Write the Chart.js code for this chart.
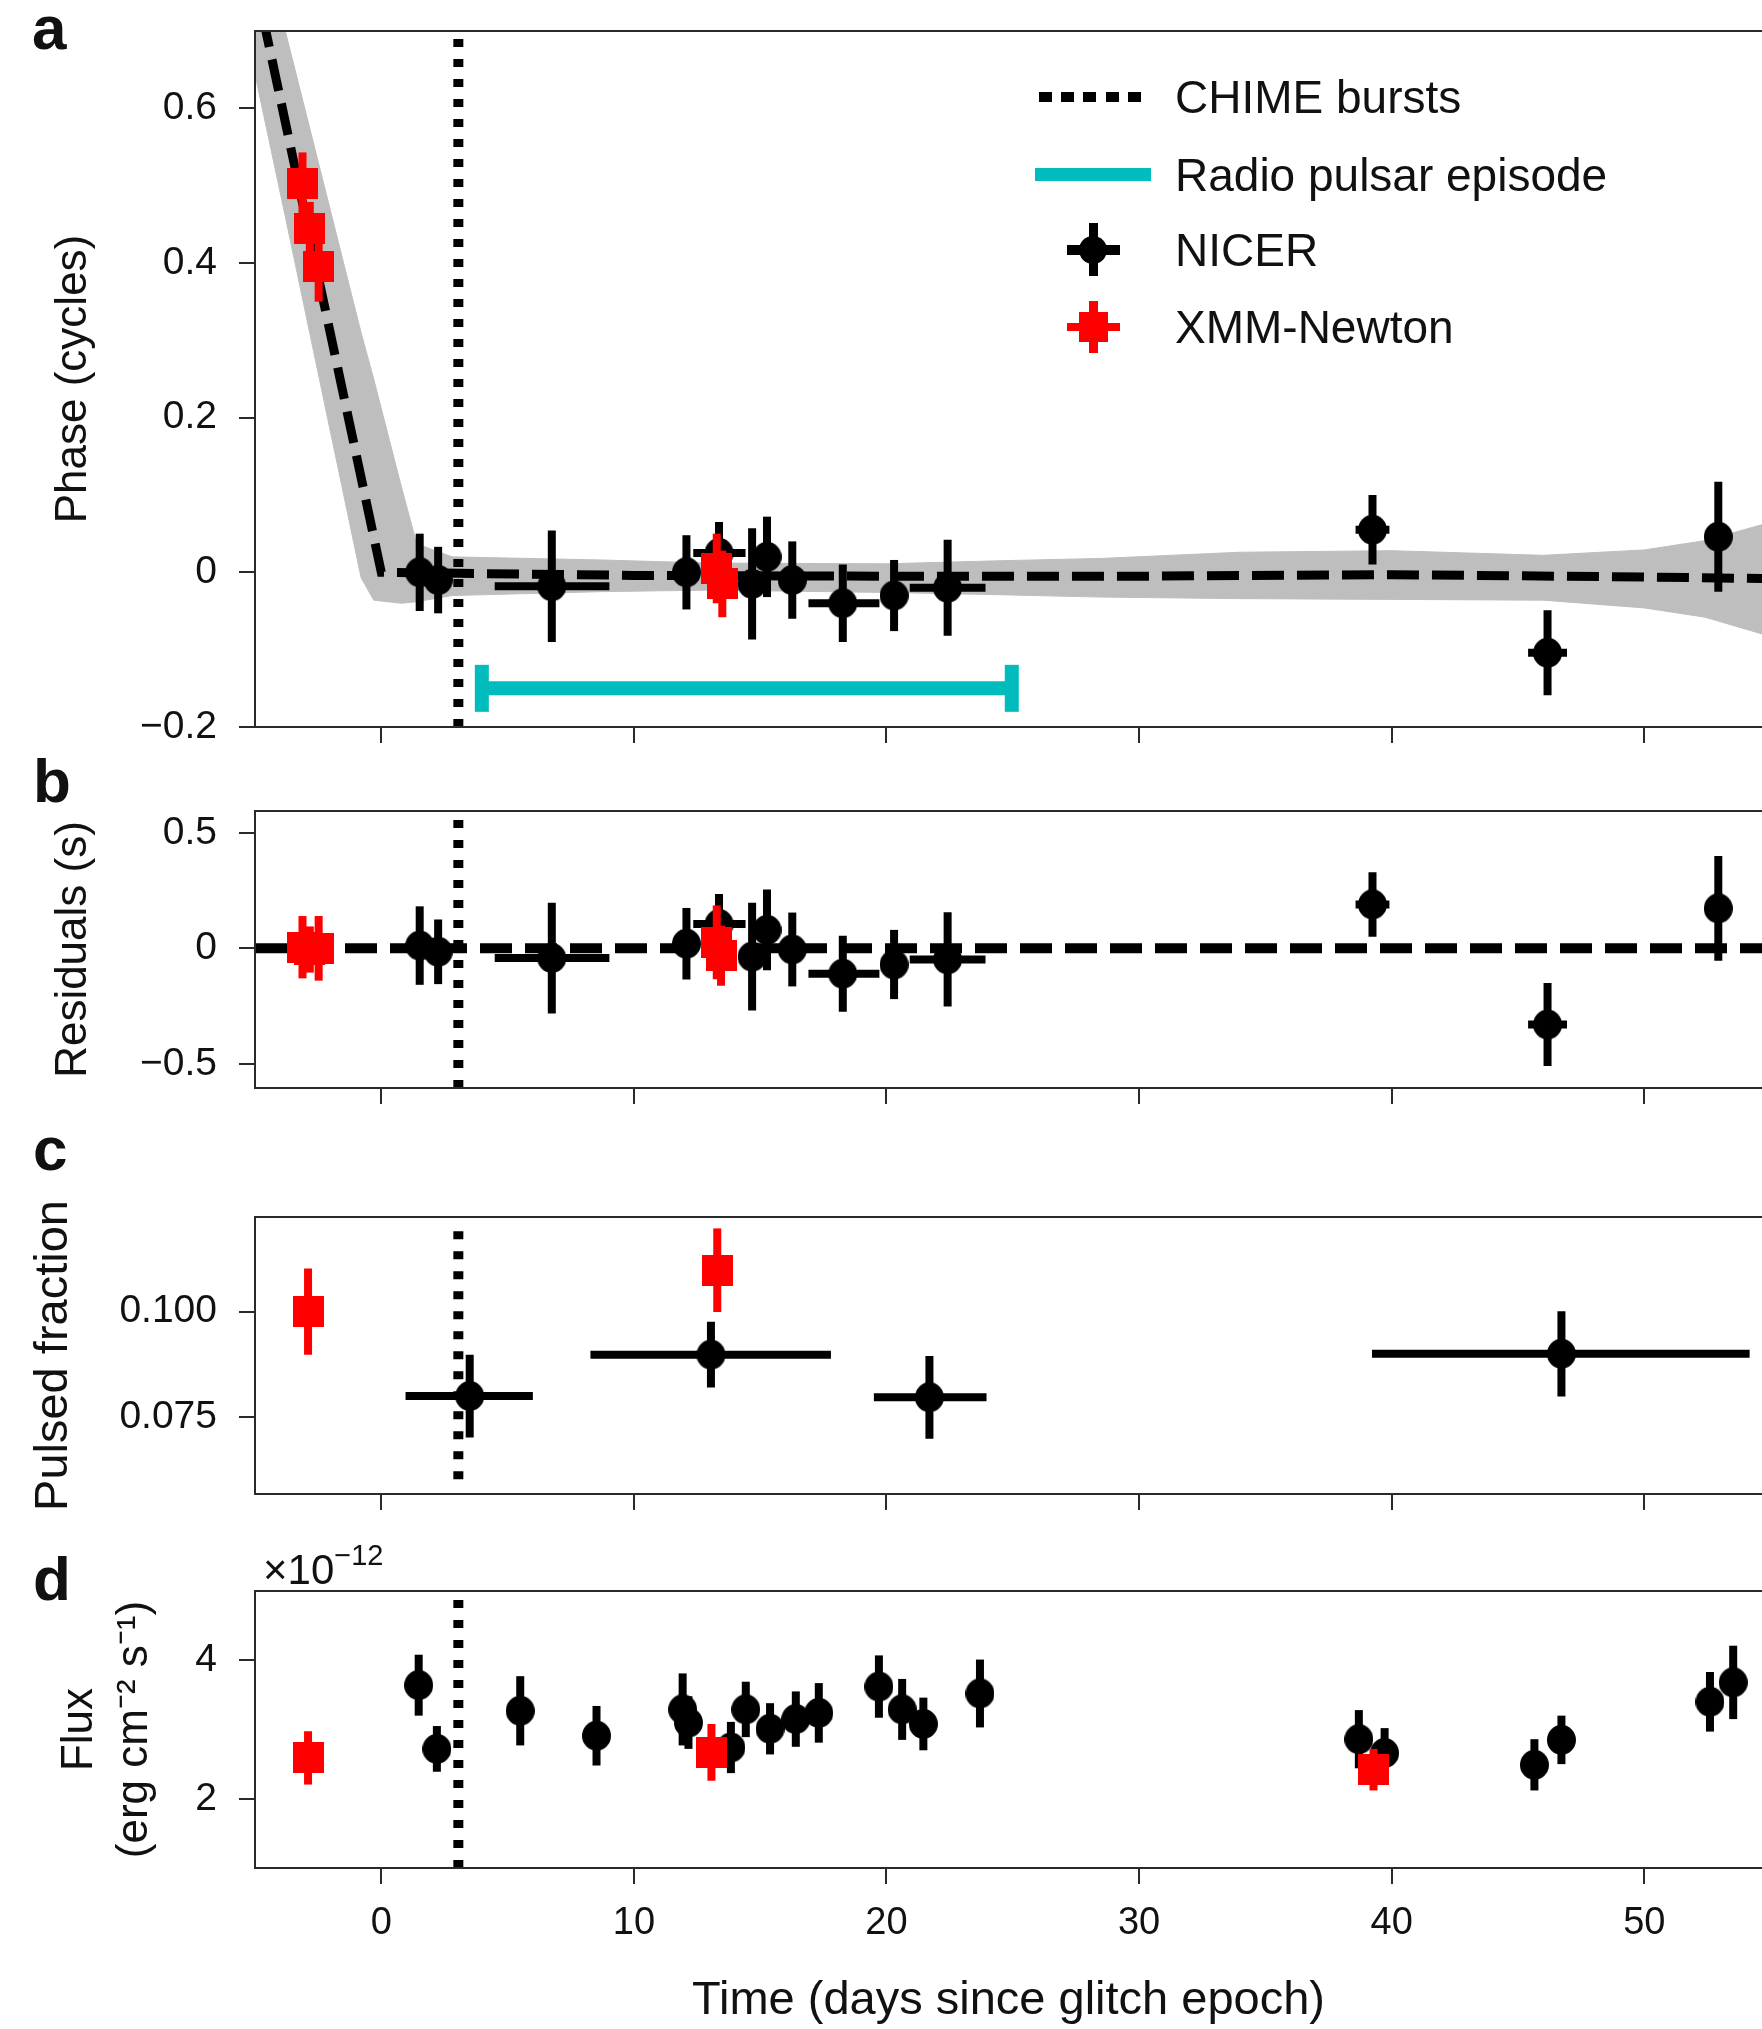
<!DOCTYPE html>
<html lang="en">
<head>
<meta charset="utf-8">
<title>Phase, residuals, pulsed fraction and flux</title>
<script src="https://cdn.jsdelivr.net/npm/chart.js"></script>
<style>
  body { margin: 0; background: #fff; }
  #fig { position: relative; width: 1762px; height: 2029px; overflow: hidden;
         font-family: 'Liberation Sans', Arial, sans-serif; color: #111; }
  #fig canvas { position: absolute; left: 0; }
  .lbl { position: absolute; font-weight: bold; font-size: 62px; line-height: 62px; }
  .leg { position: absolute; left: 1175px; font-size: 46px; line-height: 46px;
         transform: translateY(-50%); white-space: nowrap; }
  .sym { position: absolute; }
  .mult { position: absolute; left: 263px; top: 1538px; font-size: 42px; line-height: 42px; }
  .mult sup { font-size: 29px; position: relative; top: -4px; }
</style>
</head>
<body>
<div id="fig">
  <canvas id="panelA" width="1762" height="770" style="top:0px"></canvas>
  <canvas id="panelB" width="1762" height="360" style="top:770px"></canvas>
  <canvas id="panelC" width="1762" height="410" style="top:1130px"></canvas>
  <canvas id="panelD" width="1762" height="489" style="top:1540px"></canvas>

  <div class="lbl" style="left:32px; top:-3px">a</div>
  <div class="lbl" style="left:33px; top:750px">b</div>
  <div class="lbl" style="left:33px; top:1118px">c</div>
  <div class="lbl" style="left:33px; top:1548px">d</div>
  <div class="mult">×10<sup>−12</sup></div>

  <!-- legend -->
  <div class="sym" style="left:1039px; top:92px; width:102px; height:10px;
       background: repeating-linear-gradient(90deg, #000 0 13px, transparent 13px 22.25px);"></div>
  <div class="leg" style="top:97px">CHIME bursts</div>

  <div class="sym" style="left:1035px; top:168px; width:116px; height:13px; background:#00bcbc;"></div>
  <div class="leg" style="top:175px">Radio pulsar episode</div>

  <div class="sym" style="left:1089px; top:223px; width:9px; height:53px; background:#000;"></div>
  <div class="sym" style="left:1067px; top:245px; width:53px; height:10px; background:#000;"></div>
  <div class="sym" style="left:1079px; top:236px; width:28px; height:28px; border-radius:50%; background:#000;"></div>
  <div class="leg" style="top:250px">NICER</div>

  <div class="sym" style="left:1089px; top:301px; width:9px; height:52px; background:#f00;"></div>
  <div class="sym" style="left:1067px; top:323px; width:53px; height:8px; background:#f00;"></div>
  <div class="sym" style="left:1079px; top:312px; width:29px; height:30px; background:#f00;"></div>
  <div class="leg" style="top:327px">XMM-Newton</div>
</div>

<script>
  // ---- shared time axis ----
  const xMin = -5, xMax = 54.66
  const xTicks = [0, 10, 20, 30, 40, 50]
  const xTickLabels = ['0', '10', '20', '30', '40', '50']
  const chimeDay = 3.05
  const radioStart = 3.98, radioEnd = 24.96, radioPhase = -0.15

  // ---- panel a: phase ----
  const phaseMin = -0.2, phaseMax = 0.7
  const phaseTicks = [-0.2, 0, 0.2, 0.4, 0.6]
  const phaseTickLabels = ['−0.2', '0', '0.2', '0.4', '0.6']
  const bandDay = [-5, -3.8, -0.8, -0.3, 0.8, 1.4, 2.8, 8.7, 13, 20, 24.5, 28.5, 34, 40, 46, 50, 52.4, 54.7]
  const bandHi = [0.85, 0.70, 0.31, 0.25, 0.11, 0.037, 0.02, 0.016, 0.012, 0.011, 0.015, 0.018, 0.026, 0.028, 0.022, 0.029, 0.041, 0.062]
  const bandLo = [0.644, 0.46, -0.007, -0.036, -0.04, -0.038, -0.03, -0.025, -0.023, -0.026, -0.029, -0.032, -0.034, -0.035, -0.036, -0.046, -0.058, -0.08]
  const modelDay = [-4.7, 0, 10, 20, 30, 40, 50, 54.7]
  const modelPhase = [0.72, 0.0, -0.004, -0.005, -0.005, -0.003, -0.006, -0.008]

  const nicerDay = [1.52, 2.25, 6.75, 12.08, 13.37, 14.68, 15.27, 16.27, 18.27, 20.30, 22.42, 39.24, 46.17, 52.93]
  const nicerDayLo = [null, null, 4.49, null, 12.35, null, null, null, 16.91, null, 20.92, 38.57, 45.40, null]
  const nicerDayHi = [null, null, 9.03, null, 14.42, null, null, null, 19.72, null, 23.92, 39.91, 46.94, null]
  const nicerPhase = [0.0, -0.01, -0.018, 0.0, 0.025, -0.015, 0.02, -0.01, -0.04, -0.03, -0.02, 0.055, -0.104, 0.046]
  const nicerPhaseErr = [0.05, 0.043, 0.072, 0.048, 0.04, 0.072, 0.052, 0.05, 0.05, 0.046, 0.062, 0.045, 0.055, 0.071]

  const xmmDayA = [-3.12, -2.83, -2.48, 13.28, 13.50]
  const xmmPhase = [0.503, 0.444, 0.395, 0.005, -0.015]
  const xmmPhaseErr = [0.04, 0.035, 0.045, 0.045, 0.043]

  // ---- panel b: residuals ----
  const resMin = -0.605, resMax = 0.595
  const resTicks = [-0.5, 0, 0.5]
  const resTickLabels = ['−0.5', '0', '0.5']
  const zeroDay = [-5, 54.7]
  const zeroRes = [0, 0]
  const nicerRes = [0.012, -0.015, -0.042, 0.02, 0.105, -0.036, 0.08, -0.005, -0.11, -0.07, -0.048, 0.19, -0.33, 0.173]
  const nicerResErr = [0.17, 0.14, 0.24, 0.155, 0.13, 0.233, 0.175, 0.16, 0.165, 0.15, 0.204, 0.14, 0.18, 0.227]
  const xmmDayB = [-3.12, -2.83, -2.48, 13.28, 13.45]
  const xmmRes = [0.005, -0.005, 0.0, 0.026, -0.032]
  const xmmResErr = [0.135, 0.10, 0.14, 0.16, 0.13]

  // ---- panel c: pulsed fraction ----
  const pfMin = 0.0568, pfMax = 0.1224
  const pfTicks = [0.075, 0.1]
  const pfTickLabels = ['0.075', '0.100']
  const pfChime = [0.0603, 0.1197]
  const pfDay = [3.5, 13.05, 21.7, 46.72]
  const pfDayLo = [0.96, 8.28, 19.5, 39.22]
  const pfDayHi = [6.0, 17.8, 23.96, 54.17]
  const pfVal = [0.080, 0.0898, 0.0797, 0.0900]
  const pfErr = [0.0098, 0.0078, 0.0098, 0.0101]
  const xmmPfDay = [-2.9, 13.3]
  const xmmPf = [0.100, 0.1098]
  const xmmPfErr = [0.0102, 0.0099]

  // ---- panel d: flux (x1e-12) ----
  const fluxMin = 1.0, fluxMax = 5.0
  const fluxTicks = [2, 4]
  const fluxTickLabels = ['2', '4']
  const fluxDay = [1.48, 2.2, 5.5, 8.52, 11.93, 12.16, 13.84, 14.43, 15.39, 16.41, 17.32, 19.7, 20.62, 21.46, 23.7, 38.7, 39.72, 45.65, 46.72, 52.6, 53.52]
  const flux = [3.64, 2.72, 3.27, 2.91, 3.29, 3.10, 2.74, 3.29, 3.01, 3.15, 3.24, 3.62, 3.29, 3.08, 3.52, 2.86, 2.66, 2.49, 2.85, 3.40, 3.68]
  const fluxErr = [0.44, 0.33, 0.5, 0.43, 0.52, 0.38, 0.37, 0.4, 0.37, 0.4, 0.43, 0.45, 0.44, 0.38, 0.49, 0.42, 0.36, 0.37, 0.35, 0.43, 0.53]
  const xmmFluxDay = [-2.9, 13.07, 39.28]
  const xmmFlux = [2.59, 2.67, 2.42]
  const xmmFluxErr = [0.385, 0.41, 0.3]

  const AXIS = '#2a2a2a'
  const CYAN = '#00bcbc'
  const BAND = '#bebebe'

  Chart.defaults.font.family = "'Liberation Sans', Arial, sans-serif"
  Chart.defaults.color = '#111'

  // marker images
  const ellipse = document.createElement('canvas')
  ellipse.width = 29; ellipse.height = 30
  let g = ellipse.getContext('2d')
  g.fillStyle = '#000'
  g.beginPath(); g.ellipse(14.5, 15, 14.5, 15, 0, 0, Math.PI * 2); g.fill()

  const redSquare = document.createElement('canvas')
  redSquare.width = 31; redSquare.height = 31
  g = redSquare.getContext('2d')
  g.fillStyle = '#ff0000'
  g.fillRect(0, 0, 31, 31)

  const pts = (xs, ys) => xs.map((x, i) => ({x: x, y: ys[i]}))

  // error bars drawn right before their own points
  const errorBars = {
    id: 'errorBars',
    beforeDatasetDraw(chart, args) {
      const ds = chart.data.datasets[args.index]
      if (!ds.errY) return
      const {ctx, chartArea} = chart
      const xs = chart.scales.x, ys = chart.scales.y
      ctx.save()
      ctx.beginPath()
      ctx.rect(chartArea.left, chartArea.top, chartArea.width, chartArea.height)
      ctx.clip()
      ctx.strokeStyle = ds.barColor
      ctx.lineWidth = 8
      ctx.lineCap = 'butt'
      ds.data.forEach((p, i) => {
        const px = xs.getPixelForValue(p.x)
        ctx.beginPath()
        ctx.moveTo(px, ys.getPixelForValue(p.y - ds.errY[i]))
        ctx.lineTo(px, ys.getPixelForValue(p.y + ds.errY[i]))
        if (ds.xLo && ds.xLo[i] != null) {
          const py = ys.getPixelForValue(p.y)
          ctx.moveTo(xs.getPixelForValue(ds.xLo[i]), py)
          ctx.lineTo(xs.getPixelForValue(ds.xHi[i]), py)
        }
        ctx.stroke()
      })
      ctx.restore()
    }
  }

  function nicerSet(xs, ys, err, lo, hi) {
    return {type: 'scatter', data: pts(xs, ys), pointStyle: ellipse, pointRadius: 15,
            errY: err, xLo: lo, xHi: hi, barColor: '#000', order: 1}
  }
  function xmmSet(xs, ys, err) {
    return {type: 'scatter', data: pts(xs, ys), pointStyle: redSquare, pointRadius: 15,
            errY: err, barColor: '#ff0000', order: 0}
  }
  function chimeSet(lo, hi) {
    return {type: 'line', data: [{x: chimeDay, y: lo}, {x: chimeDay, y: hi}],
            borderColor: '#000', borderWidth: 10, borderDash: [8, 12], borderCapStyle: 'butt',
            pointRadius: 0, fill: false, clip: 0, order: 3}
  }
  function dashedSet(xs, ys, w) {
    return {type: 'line', data: pts(xs, ys), borderColor: '#000', borderWidth: w,
            borderDash: [32, 13], borderCapStyle: 'butt', pointRadius: 0, tension: 0,
            fill: false, clip: 0, order: 4}
  }
  const zeroPad = s => { s.paddingTop = 0; s.paddingBottom = 0; s.paddingLeft = 0; s.paddingRight = 0 }

  function panelChart(id, p) {
    return new Chart(document.getElementById(id), {
      type: 'scatter',
      data: {datasets: p.datasets},
      plugins: [errorBars],
      options: {
        responsive: false,
        animation: false,
        devicePixelRatio: 1,
        events: [],
        layout: {autoPadding: false, padding: {top: p.padTop, left: 0, right: 0, bottom: 0}},
        plugins: {legend: {display: false}, tooltip: {enabled: false}},
        scales: {
          x: {
            type: 'linear', position: 'bottom', min: xMin, max: xMax,
            afterBuildTicks: s => { s.ticks = xTicks.map(v => ({value: v})) },
            afterFit: s => { s.height = p.xAxisH; zeroPad(s) },
            grid: {drawOnChartArea: false, tickLength: 16, color: AXIS, lineWidth: 2},
            border: {color: AXIS, width: 2, z: 1},
            ticks: {display: p.xLabels, padding: 17, font: {size: 38}, color: '#111',
                    callback: (v, i) => xTickLabels[i]},
            title: {display: p.xLabels, text: 'Time (days since glitch epoch)', color: '#111',
                    font: {size: 47}, padding: {top: 0, bottom: 0}}
          },
          x2: {
            type: 'linear', axis: 'x', position: 'top', min: xMin, max: xMax,
            grid: {display: false}, ticks: {display: false},
            border: {color: AXIS, width: 2, z: 1},
            afterFit: s => { s.height = 0; zeroPad(s) }
          },
          y: {
            type: 'linear', position: 'left', min: p.yMin, max: p.yMax,
            afterBuildTicks: s => { s.ticks = p.yTicks.map(v => ({value: v})) },
            afterFit: s => { s.width = 255; zeroPad(s) },
            grid: {drawOnChartArea: false, tickLength: 16, color: AXIS, lineWidth: 2},
            border: {color: AXIS, width: 2, z: 1},
            ticks: {padding: 22, font: {size: 39}, color: '#111',
                    callback: (v, i) => p.yTickLabels[i]},
            title: {display: true, text: p.yTitle, color: '#111',
                    font: {size: p.yTitleSize, lineHeight: 1.25},
                    padding: {top: p.yTitlePad, bottom: 0}}
          }
        }
      }
    })
  }

  // panel a
  panelChart('panelA', {
    padTop: 31, xAxisH: 43, xLabels: false,
    yMin: phaseMin, yMax: phaseMax, yTicks: phaseTicks, yTickLabels: phaseTickLabels,
    yTitle: 'Phase (cycles)', yTitleSize: 44, yTitlePad: 46.5,
    datasets: [
      {type: 'line', data: pts(bandDay, bandHi), borderColor: BAND, borderWidth: 1,
       pointRadius: 0, fill: false, clip: 0, order: 6},
      {type: 'line', data: pts(bandDay, bandLo), borderColor: BAND, borderWidth: 1,
       backgroundColor: BAND, pointRadius: 0, fill: '-1', clip: 0, order: 5},
      dashedSet(modelDay, modelPhase, 9),
      chimeSet(phaseMin, phaseMax),
      {type: 'line', data: [{x: radioStart, y: radioPhase}, {x: radioEnd, y: radioPhase}],
       borderColor: CYAN, borderWidth: 14, borderCapStyle: 'butt', fill: false,
       pointStyle: 'line', rotation: 90, pointRadius: 23.5,
       pointBorderWidth: 14, pointBorderColor: CYAN, clip: 0, order: 2},
      nicerSet(nicerDay, nicerPhase, nicerPhaseErr, nicerDayLo, nicerDayHi),
      xmmSet(xmmDayA, xmmPhase, xmmPhaseErr)
    ]
  })

  // panel b
  panelChart('panelB', {
    padTop: 41, xAxisH: 42, xLabels: false,
    yMin: resMin, yMax: resMax, yTicks: resTicks, yTickLabels: resTickLabels,
    yTitle: 'Residuals (s)', yTitleSize: 44, yTitlePad: 46.5,
    datasets: [
      dashedSet(zeroDay, zeroRes, 10),
      chimeSet(resMin, resMax),
      nicerSet(nicerDay, nicerRes, nicerResErr, nicerDayLo, nicerDayHi),
      xmmSet(xmmDayB, xmmRes, xmmResErr)
    ]
  })

  // panel c
  panelChart('panelC', {
    padTop: 87, xAxisH: 46, xLabels: false,
    yMin: pfMin, yMax: pfMax, yTicks: pfTicks, yTickLabels: pfTickLabels,
    yTitle: 'Pulsed fraction', yTitleSize: 47, yTitlePad: 24.6,
    datasets: [
      chimeSet(pfChime[0], pfChime[1]),
      nicerSet(pfDay, pfVal, pfErr, pfDayLo, pfDayHi),
      xmmSet(xmmPfDay, xmmPf, xmmPfErr)
    ]
  })

  // panel d
  panelChart('panelD', {
    padTop: 51, xAxisH: 161, xLabels: true,
    yMin: fluxMin, yMax: fluxMax, yTicks: fluxTicks, yTickLabels: fluxTickLabels,
    yTitle: ['Flux', '(erg cm⁻² s⁻¹)'], yTitleSize: 44, yTitlePad: 52.5,
    datasets: [
      chimeSet(fluxMin, fluxMax),
      nicerSet(fluxDay, flux, fluxErr, null, null),
      xmmSet(xmmFluxDay, xmmFlux, xmmFluxErr)
    ]
  })
</script>
</body>
</html>
